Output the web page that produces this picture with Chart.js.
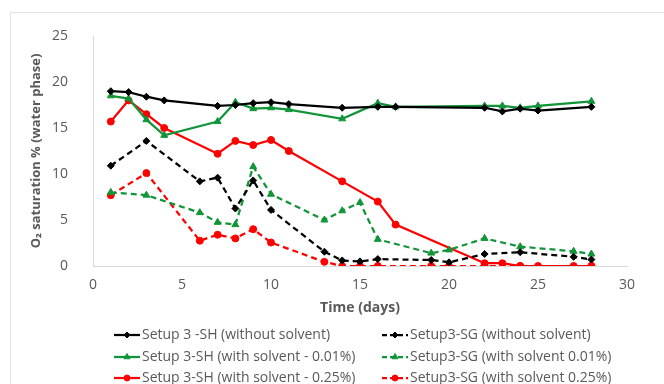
<!DOCTYPE html>
<html>
<head>
<meta charset="utf-8">
<script src="https://cdn.jsdelivr.net/npm/chart.js@4.4.0/dist/chart.umd.min.js"></script>
<style>
  body { margin: 0; background: #fff; overflow: hidden; }
  #frame { position: absolute; left: 10px; top: 12px; width: 720px; height: 420px; border: 1px solid #e3e3e3; }
  #chart { position: absolute; left: 0; top: 0; }
</style>
</head>
<body>
<div id="frame"></div>
<canvas id="chart" width="664" height="384"></canvas>
<script>
// days of sampling
var shDays = [1, 2, 3, 4, 7, 8, 9, 10, 11, 14, 16, 17, 22, 23, 24, 25, 28];
var sgDays = [1, 3, 6, 7, 8, 9, 10, 13, 14, 15, 16, 19, 20, 22, 24, 27, 28];

// O2 saturation values
var shNoSolvent  = [19.0, 18.9, 18.4, 18.0, 17.4, 17.5, 17.7, 17.8, 17.6, 17.2, 17.3, 17.3, 17.2, 16.8, 17.1, 16.9, 17.3];
var shSolvent001 = [18.5, 18.2, 15.9, 14.2, 15.7, 17.8, 17.1, 17.2, 17.0, 16.0, 17.7, 17.3, 17.4, 17.4, 17.2, 17.4, 17.9];
var shSolvent025 = [15.7, 18.0, 16.5, 15.0, 12.2, 13.6, 13.15, 13.7, 12.5, 9.2, 7.0, 4.5, 0.3, 0.3, 0, 0, 0];
var sgNoSolvent  = [10.9, 13.6, 9.2, 9.6, 6.25, 9.3, 6.1, 1.55, 0.6, 0.5, 0.75, 0.65, 0.4, 1.3, 1.5, 1.0, 0.7];
var sgSolvent001 = [8.0, 7.7, 5.8, 4.75, 4.5, 10.8, 7.8, 5.0, 6.0, 6.9, 2.9, 1.4, 1.75, 3.0, 2.1, 1.6, 1.3];
var sgSolvent025 = [7.7, 10.1, 2.75, 3.4, 3.0, 4.0, 2.55, 0.45, 0, 0, 0, 0, 0, 0, 0, 0, 0];

var xTicks = [0, 5, 10, 15, 20, 25, 30];
var yTicks = [0, 5, 10, 15, 20, 25];

var labelNames = [
  'Setup 3 -SH (without solvent)', 'Setup3-SG (without solvent)',
  'Setup 3-SH (with solvent - 0.01%)', 'Setup3-SG (with solvent 0.01%)',
  'Setup 3-SH (with solvent - 0.25%)', 'Setup3-SG (with solvent 0.25%)'
];

var GREEN = '#129439';
var RED = '#ff0000';
var FONT = '"Open Sans", sans-serif';

function pts(days, vals) {
  var out = [];
  for (var i = 0; i < days.length; i++) out.push({x: days[i], y: vals[i]});
  return out;
}

function makeSet(label, days, vals, color, style, dashed) {
  return {
    label: label,
    data: pts(days, vals),
    borderColor: color,
    backgroundColor: color,
    borderWidth: 2.25,
    borderDash: dashed ? [6, 4] : [],
    pointStyle: style,
    pointRadius: style === 'triangle' ? 4 : (style === 'rectRot' ? 3.5 : 3.5),
    pointBorderWidth: 1,
    tension: 0,
    fill: false
  };
}

var datasets = [
  makeSet(labelNames[0], shDays, shNoSolvent, '#000', 'rectRot', false),
  makeSet(labelNames[1], sgDays, sgNoSolvent, '#000', 'rectRot', true),
  makeSet(labelNames[2], shDays, shSolvent001, GREEN, 'triangle', false),
  makeSet(labelNames[3], sgDays, sgSolvent001, GREEN, 'triangle', true),
  makeSet(labelNames[4], shDays, shSolvent025, RED, 'circle', false),
  makeSet(labelNames[5], sgDays, sgSolvent025, RED, 'circle', true)
];

// two-column legend like the Excel one
var legendCols = [114, 382];
var legendRows = [335, 357, 378];
var legendPlugin = {
  id: 'twoColLegend',
  afterDraw: function(chart) {
    var ctx = chart.ctx;
    ctx.save();
    ctx.font = '14px ' + FONT;
    ctx.textBaseline = 'middle';
    ctx.fillStyle = '#595959';
    chart.data.datasets.forEach(function(ds, i) {
      var x = legendCols[i % 2];
      var y = legendRows[Math.floor(i / 2)];
      ctx.save();
      ctx.strokeStyle = ds.borderColor;
      ctx.lineWidth = ds.borderWidth;
      ctx.setLineDash(ds.borderDash.length ? [5, 3] : []);
      ctx.beginPath();
      ctx.moveTo(x, y);
      ctx.lineTo(x + 26, y);
      ctx.stroke();
      ctx.setLineDash([]);
      ctx.fillStyle = ds.borderColor;
      ctx.strokeStyle = ds.borderColor;
      ctx.lineWidth = 1;
      Chart.helpers.drawPoint(ctx, {pointStyle: ds.pointStyle, radius: ds.pointRadius - 0.5, rotation: 0, borderWidth: 1}, x + 13, y);
      ctx.restore();
      ctx.fillText(ds.label, x + 28, y);
    });
    ctx.restore();
  }
};

var ctx = document.getElementById('chart');
var chart = new Chart(ctx, {
  type: 'line',
  data: { datasets: datasets },
  options: {
    responsive: false,
    animation: false,
    layout: { padding: { left: 0, top: 36, right: 37, bottom: 0 } },
    plugins: { legend: { display: false }, tooltip: { enabled: false } },
    scales: {
      x: {
        type: 'linear', min: 0, max: 30,
        afterBuildTicks: function(s) { s.ticks = xTicks.map(function(v) { return {value: v}; }); },
        afterFit: function(s) { s.height = 118; },
        ticks: { color: '#595959', padding: 11, font: { family: FONT, size: 14 } },
        grid: { display: false, drawTicks: false },
        border: { color: '#d9d9d9', width: 1 },
        title: { display: true, text: 'Time (days)', color: '#595959', padding: { top: 0, bottom: 68 }, font: { family: FONT, size: 14, weight: 'bold' } }
      },
      y: {
        min: 0, max: 25,
        afterBuildTicks: function(s) { s.ticks = yTicks.map(function(v) { return {value: v}; }); },
        afterFit: function(s) { s.width = 93; },
        ticks: { color: '#595959', padding: 25, font: { family: FONT, size: 14 } },
        grid: { display: false, drawTicks: false },
        border: { color: '#d9d9d9', width: 1 },
        title: { display: true, text: 'O₂ saturation % (water phase)', color: '#595959', padding: { top: 28, bottom: 0 }, font: { family: FONT, size: 13, weight: 'bold' } }
      }
    }
  },
  plugins: [legendPlugin]
});
</script>
</body>
</html>
